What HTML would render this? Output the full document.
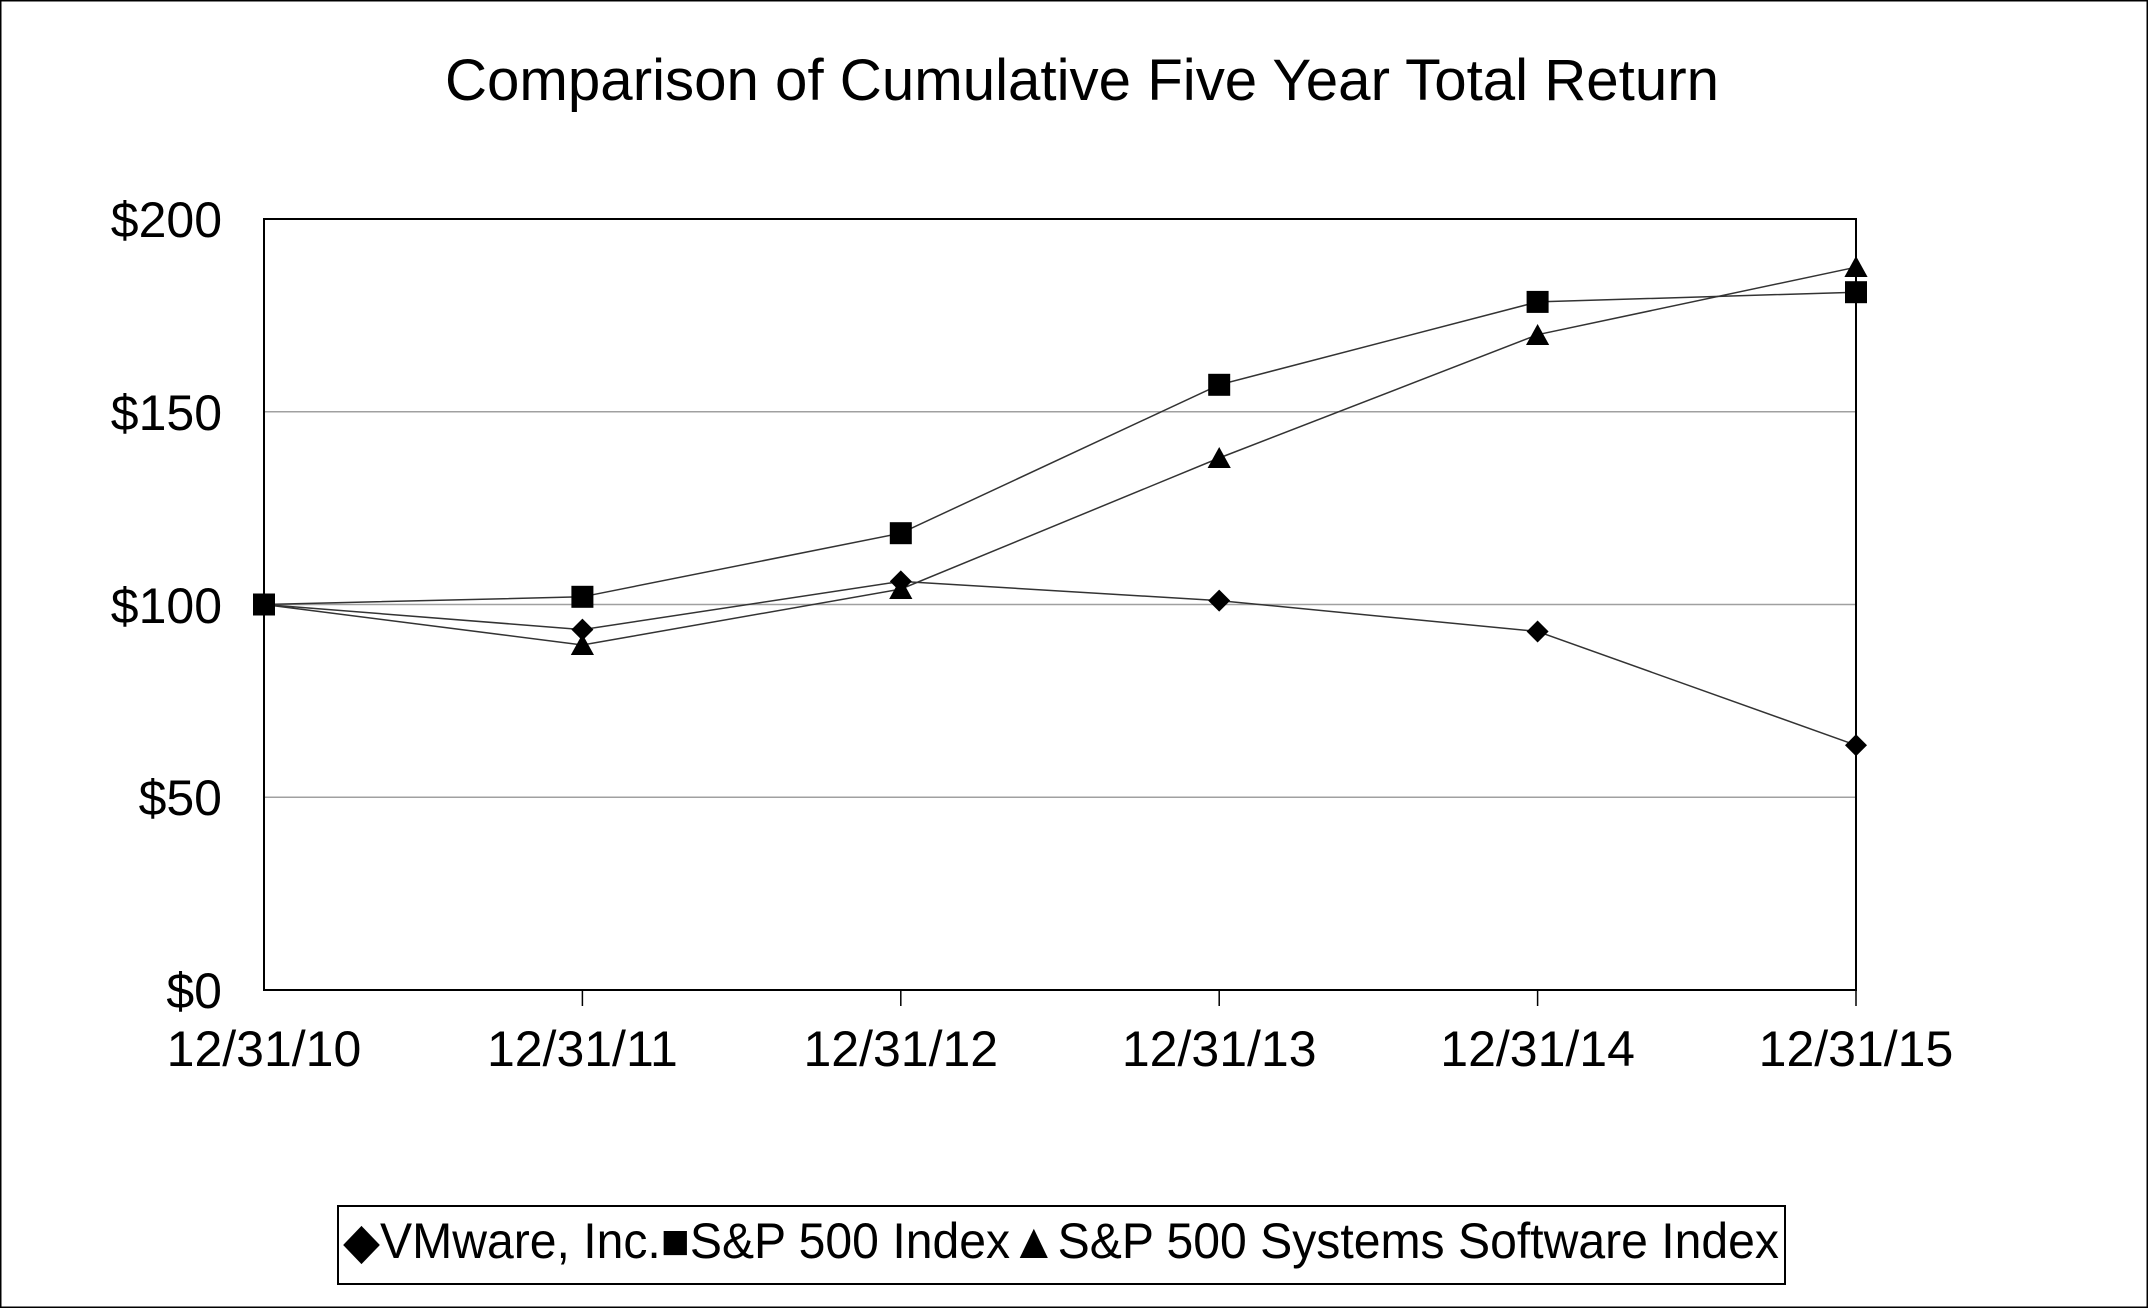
<!DOCTYPE html>
<html><head><meta charset="utf-8"><style>html,body{margin:0;padding:0;background:#fff}</style></head>
<body>
<svg width="2148" height="1308" xmlns="http://www.w3.org/2000/svg" font-family="Liberation Sans, Arial, sans-serif">
<rect x="0.5" y="0.5" width="2147" height="1307" fill="#fff" stroke="#000" stroke-width="2"/>
<text x="445" y="100" font-size="58" textLength="1274" lengthAdjust="spacingAndGlyphs">Comparison of Cumulative Five Year Total Return</text>
<g stroke="#a0a0a0" stroke-width="1.5">
<line x1="264" x2="1856" y1="411.75" y2="411.75"/>
<line x1="264" x2="1856" y1="604.5" y2="604.5"/>
<line x1="264" x2="1856" y1="797.25" y2="797.25"/>
</g>
<rect x="264" y="219" width="1592" height="771" fill="none" stroke="#000" stroke-width="2"/>
<g stroke="#000" stroke-width="1.5">
<line x1="582.4" x2="582.4" y1="990" y2="1006"/>
<line x1="900.8" x2="900.8" y1="990" y2="1006"/>
<line x1="1219.2" x2="1219.2" y1="990" y2="1006"/>
<line x1="1537.6" x2="1537.6" y1="990" y2="1006"/>
<line x1="1856" x2="1856" y1="990" y2="1006"/>
</g>
<g font-size="50" text-anchor="end">
<text x="222" y="237">$200</text>
<text x="222" y="430">$150</text>
<text x="222" y="623">$100</text>
<text x="222" y="815">$50</text>
<text x="222" y="1008">$0</text>
</g>
<g font-size="50" text-anchor="middle">
<text x="264" y="1066">12/31/10</text>
<text x="582.4" y="1066">12/31/11</text>
<text x="900.8" y="1066">12/31/12</text>
<text x="1219.2" y="1066">12/31/13</text>
<text x="1537.6" y="1066">12/31/14</text>
<text x="1856" y="1066">12/31/15</text>
</g>
<g fill="none" stroke="#333" stroke-width="1.5">
<polyline points="264,604.5 582.4,629.6 900.8,581.4 1219.2,600.6 1537.6,631.5 1856,745.2"/>
<polyline points="264,604.5 582.4,596.8 900.8,533.2 1219.2,384.8 1537.6,301.9 1856,292.2"/>
<polyline points="264,604.5 582.4,645 900.8,589.1 1219.2,458 1537.6,334.7 1856,267.2"/>
</g>
<g fill="#000">
<polygon points="264,593 275,604.5 264,616 253,604.5"/>
<polygon points="582.4,618.6 593.4,629.6 582.4,640.6 571.4,629.6"/>
<polygon points="900.8,570.4 911.8,581.4 900.8,592.4 889.8,581.4"/>
<polygon points="1219.2,589.6 1230.2,600.6 1219.2,611.6 1208.2,600.6"/>
<polygon points="1537.6,620.5 1548.6,631.5 1537.6,642.5 1526.6,631.5"/>
<polygon points="1856,734.2 1867,745.2 1856,756.2 1845,745.2"/>
<rect x="253" y="593.5" width="22" height="22"/>
<rect x="571.4" y="585.8" width="22" height="22"/>
<rect x="889.8" y="522.2" width="22" height="22"/>
<rect x="1208.2" y="373.8" width="22" height="22"/>
<rect x="1526.6" y="290.9" width="22" height="22"/>
<rect x="1845" y="281.2" width="22" height="22"/>
<polygon points="582.4,634 594,655 570.8,655"/>
<polygon points="900.8,578 912.4,599 889.2,599"/>
<polygon points="1219.2,447 1230.8,468 1207.6,468"/>
<polygon points="1537.6,324 1549.2,345 1526,345"/>
<polygon points="1856,256 1867.6,277 1844.4,277"/>
</g>
<rect x="338" y="1206" width="1447" height="78" fill="#fff" stroke="#000" stroke-width="2"/>
<text x="343" y="1258" font-size="50" textLength="1436" lengthAdjust="spacingAndGlyphs">◆VMware, Inc.■S&amp;P 500 Index▲S&amp;P 500 Systems Software Index</text>
</svg>
</body></html>
